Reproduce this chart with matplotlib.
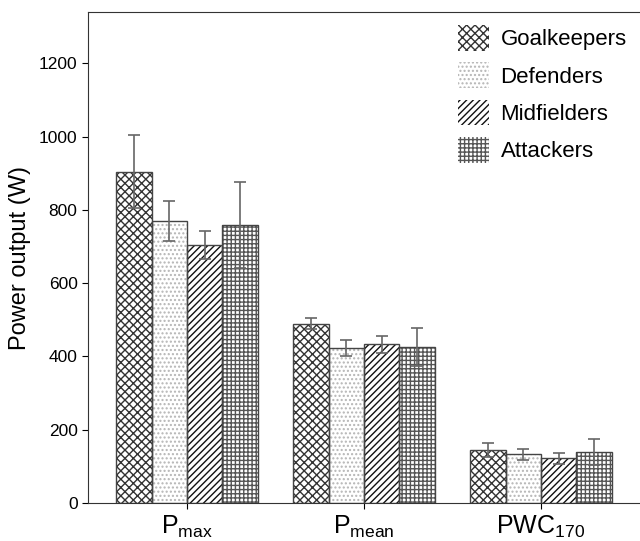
import numpy as np
import matplotlib.pyplot as plt

plt.rcParams['font.family'] = ['Liberation Sans', 'DejaVu Sans']
plt.rcParams['hatch.linewidth'] = 1.0

# data
groups = ['$\\mathregular{P_{max}}$', '$\\mathregular{P_{mean}}$', '$\\mathregular{PWC_{170}}$']
positions = ['Goalkeepers', 'Defenders', 'Midfielders', 'Attackers']
goalkeepers = [904, 490, 144]
defenders = [770, 424, 133]
midfielders = [705, 433, 122]
attackers = [759, 427, 139]
err_gk = [100, 16, 19]
err_def = [55, 22, 14]
err_mid = [38, 24, 14]
err_att = [117, 52, 35]

values = [goalkeepers, defenders, midfielders, attackers]
errors = [err_gk, err_def, err_mid, err_att]
hatches = ['xxxx', '....', '/////', '++++']
hatch_cols = ['#333333', '#b5b5b5', '#111111', '#555555']

fig = plt.figure(figsize=(6.4, 5.41), dpi=100)
ax = fig.add_axes([0.1375, 0.070, 0.8625, 0.908])

x = np.arange(len(groups))
w = 0.2
for i in range(4):
    xs = x + (i - 1.5) * w
    ax.bar(xs, values[i], width=w, color='white', edgecolor=hatch_cols[i],
           hatch=hatches[i], linewidth=0, label=positions[i], zorder=2)
    ax.bar(xs, values[i], width=w, color='none', edgecolor='#444444',
           linewidth=1.0, zorder=3)
    ax.errorbar(xs, values[i], yerr=errors[i], fmt='none', ecolor='#666666',
                elinewidth=1.2, capsize=4, capthick=1.2, zorder=4)

ax.set_xlim(-0.56, 2.56)
ax.set_ylim(0, 1340)
ax.set_yticks(range(0, 1201, 200))
ax.set_xticks(x)
ax.set_xticklabels(groups, fontsize=18)
ax.tick_params(axis='y', labelsize=12.5, direction='out', length=4)
ax.tick_params(axis='x', direction='inout', length=8, pad=4)
ax.set_ylabel('Power output (W)', fontsize=17, labelpad=6)
for s in ['left', 'top', 'bottom']:
    ax.spines[s].set_color('#333333')
ax.spines['right'].set_visible(False)

ax.legend(loc='upper right', bbox_to_anchor=(1.0, 1.0), frameon=False,
          fontsize=16, handlelength=1.4, handleheight=1.4, labelspacing=0.52,
          borderaxespad=0.2, handletextpad=0.5)

fig.savefig('out.png', dpi=100)
